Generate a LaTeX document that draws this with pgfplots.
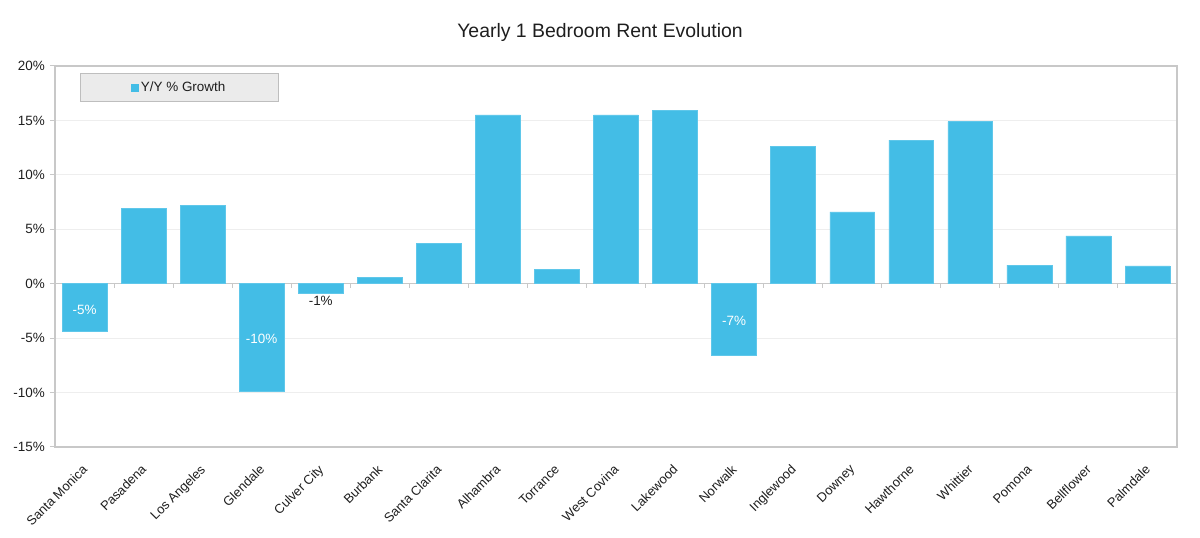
\documentclass[border=0pt]{standalone}
\usepackage{pgfplots}
\pgfplotsset{compat=1.18}
\usepackage{fontspec}
\setmainfont{Liberation Sans}
\definecolor{barblue}{RGB}{67,189,230}
\definecolor{axgray}{RGB}{200,200,200}
\definecolor{gridgray}{RGB}{238,238,238}
\definecolor{legfill}{RGB}{235,235,235}
\definecolor{legdraw}{RGB}{190,190,190}
\definecolor{txt}{RGB}{30,30,30}
\begin{document}
\begin{tikzpicture}
\useasboundingbox (0,0) rectangle (1200bp,538bp);
\node[font=\fontsize{19.5}{22}\selectfont, text=txt] at (600bp,506bp) {Yearly 1 Bedroom Rent Evolution};
\begin{axis}[
  at={(55bp,91bp)}, anchor=south west,
  scale only axis, width=1122bp, height=381bp,
  xmin=-0.5, xmax=18.5, ymin=-15, ymax=20,
  ytick={-15,-10,-5,0,5,10,15,20},
  yticklabels={-15\%,-10\%,-5\%,0\%,5\%,10\%,15\%,20\%},
  xtick={0,...,18},
  xticklabels={Santa Monica,Pasadena,Los Angeles,Glendale,Culver City,Burbank,Santa Clarita,Alhambra,Torrance,West Covina,Lakewood,Norwalk,Inglewood,Downey,Hawthorne,Whittier,Pomona,Bellflower,Palmdale},
  x tick label style={rotate=45, anchor=north east, inner sep=2bp, xshift=-8.5bp, yshift=-4bp, font=\fontsize{13}{15}\selectfont, text=txt},
  y tick label style={font=\fontsize{13.5}{15}\selectfont, text=txt, inner sep=5bp},
  xtick style={draw=none},
  ytick pos=left, tick align=outside, major tick length=5bp,
  ytick style={axgray, line width=1bp},
  axis line style={axgray, line width=1.5bp},
  ymajorgrids, grid style={gridgray, line width=0.8bp},
  legend style={at={(0.0223,0.9816)}, anchor=north west, fill=legfill, draw=legdraw, line width=0.8bp,
    inner xsep=51bp, inner ysep=6.5bp, font=\fontsize{13.5}{15}\selectfont, text=txt},
  legend image code/.code={\fill[barblue] (0bp,-3.5bp) rectangle (7bp,3.5bp);},
  clip=false,
]
\draw[axgray, line width=1.5bp] (axis cs:-0.5,0) -- (axis cs:18.5,0);
\pgfplotsinvokeforeach{-0.5,0.5,1.5,2.5,3.5,4.5,5.5,6.5,7.5,8.5,9.5,10.5,11.5,12.5,13.5,14.5,15.5,16.5,17.5,18.5}{
  \draw[axgray, line width=1bp] (axis cs:#1,0) -- ([yshift=-4bp]axis cs:#1,0);
}
\addplot[ybar, bar width=0.76, bar shift=0, fill=barblue, draw=barblue!85!white, line width=0.5bp] coordinates {
(0,-4.4) (1,6.9) (2,7.2) (3,-9.9) (4,-0.9) (5,0.6) (6,3.7) (7,15.5) (8,1.35) (9,15.5)
(10,15.9) (11,-6.6) (12,12.6) (13,6.6) (14,13.2) (15,14.9) (16,1.7) (17,4.4) (18,1.65)
};
\addlegendentry{Y/Y \% Growth}
\addplot[forget plot, draw=none, mark=none, point meta=explicit symbolic,
  nodes near coords, nodes near coords align=center,
  every node near coord/.append style={text=white, font=\fontsize{13.5}{15}\selectfont}] coordinates {
(0,-2.4) [-5\%] (3,-5.05) [-10\%] (11,-3.4) [-7\%]
};
\addplot[forget plot, draw=none, mark=none, point meta=explicit symbolic,
  nodes near coords, nodes near coords align=center,
  every node near coord/.append style={text=txt, font=\fontsize{13.5}{15}\selectfont}] coordinates {
(4,-1.6) [-1\%]
};
\end{axis}
\end{tikzpicture}
\end{document}
